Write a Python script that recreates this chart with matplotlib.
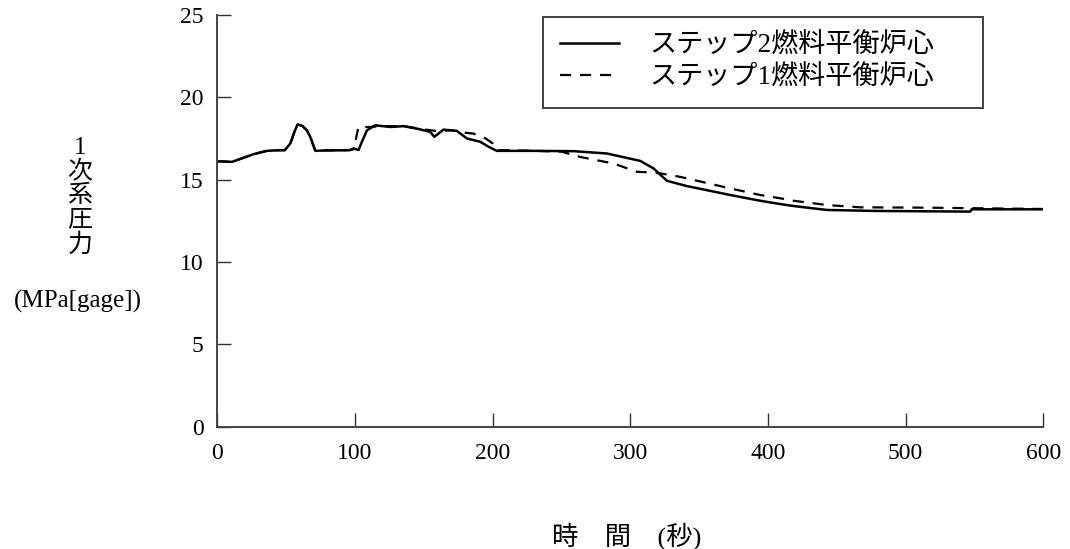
import matplotlib
matplotlib.use("Agg")
import matplotlib.pyplot as plt

plt.rcParams['font.family'] = ['Liberation Serif', 'Noto Sans CJK JP', 'DejaVu Sans']

# Step 2 fuel equilibrium core (solid)
t_step2 = [0, 5, 10.7, 18, 26.4, 36, 45, 49, 53, 56, 58.3, 62, 65, 67.5, 71.2, 80, 90, 96.6,
           99, 102.6, 105, 108.7, 114.7, 125.6, 135.3, 145, 154.7, 157.6, 164.3, 174, 181.3,
           191, 197, 203, 212.8, 230, 258.8, 283, 307.2, 316.9, 326.6, 341.1, 372.5, 394.3,
           408.9, 418.5, 442.8, 479, 546.8, 548, 600]
p_step2 = [16.12, 16.10, 16.08, 16.30, 16.55, 16.75, 16.79, 16.79, 17.19, 17.90, 18.36, 18.25,
           18.00, 17.60, 16.75, 16.78, 16.78, 16.80, 16.90, 16.80, 17.30, 18.00, 18.30, 18.20,
           18.25, 18.10, 17.90, 17.60, 18.04, 17.96, 17.50, 17.30, 17.00, 16.75, 16.75, 16.75,
           16.73, 16.59, 16.14, 15.68, 14.93, 14.61, 14.07, 13.72, 13.52, 13.40, 13.16, 13.10,
           13.06, 13.20, 13.20]

# Step 1 fuel equilibrium core (dashed)
t_step1 = [0, 5, 10.7, 18, 26.4, 36, 45, 49, 53, 56, 58.3, 62, 65, 67.5, 71.2, 80, 90, 96.6,
           99, 101, 102.5, 110, 120, 135, 150, 160, 170, 180, 186, 195, 200, 203, 230, 250,
           263.6, 287.8, 304.8, 319.3, 336.2, 372.5, 394.3, 408.9, 418.5, 442.8, 467, 515, 600]
p_step1 = [16.12, 16.10, 16.08, 16.30, 16.55, 16.75, 16.79, 16.79, 17.19, 17.90, 18.36, 18.25,
           18.00, 17.60, 16.75, 16.78, 16.78, 16.80, 16.85, 17.60, 18.20, 18.20, 18.25, 18.25,
           18.05, 17.95, 18.00, 17.85, 17.80, 17.50, 17.20, 16.80, 16.75, 16.70, 16.38, 15.98,
           15.48, 15.42, 15.17, 14.47, 14.07, 13.87, 13.72, 13.46, 13.32, 13.30, 13.22]

label_step2 = 'ステップ2燃料平衡炉心'
label_step1 = 'ステップ1燃料平衡炉心'
x_ticks = [0, 100, 200, 300, 400, 500, 600]
y_ticks = [0, 5, 10, 15, 20, 25]

fig = plt.figure(figsize=(10.7, 5.49), dpi=100)
ax = fig.add_axes([0.2031, 0.2228, 0.9751 - 0.2031, 0.9727 - 0.2228])

ax.plot(t_step2, p_step2, color='black', lw=1.8, label=label_step2)
ax.plot(t_step1, p_step1, color='black', lw=1.6, dashes=(5, 4), label=label_step1)

ax.set_xlim(0, 600)
ax.set_ylim(0, 25)
ax.set_xticks(x_ticks)
ax.set_yticks(y_ticks)
for s in ['top', 'right']:
    ax.spines[s].set_visible(False)
for s in ['left', 'bottom']:
    ax.spines[s].set_color('#444444')
    ax.spines[s].set_linewidth(1.4)
ax.tick_params(axis='both', direction='in', length=10, width=1.0, color='#333333',
               labelsize=17)
ax.tick_params(axis='x', pad=12)
ax.tick_params(axis='y', pad=10)

leg = ax.legend(loc='upper left', bbox_to_anchor=(543 / 1070, 1 - 16.7 / 549, 440 / 1070, 0.0),
                bbox_transform=fig.transFigure, mode='expand', fontsize=19.5,
                handlelength=2.2, handletextpad=1.1, labelspacing=0.26, borderpad=0.62,
                fancybox=False, framealpha=1, edgecolor='#333333', borderaxespad=0)
leg.get_frame().set_linewidth(1.3)

fig.text(80 / 1070, 1 - 196.5 / 549, '1\n次\n系\n圧\n力', ha='center', va='center',
         fontsize=18, linespacing=1.1)
fig.text(78 / 1070, 1 - 301 / 549, '(MPa[gage])', ha='center', va='center', fontsize=18)
fig.text(627 / 1070, 1 - 536 / 549, '時\u3000間\u3000(秒)', ha='center', va='center',
         fontsize=19)

fig.savefig('out.png', dpi=100)
